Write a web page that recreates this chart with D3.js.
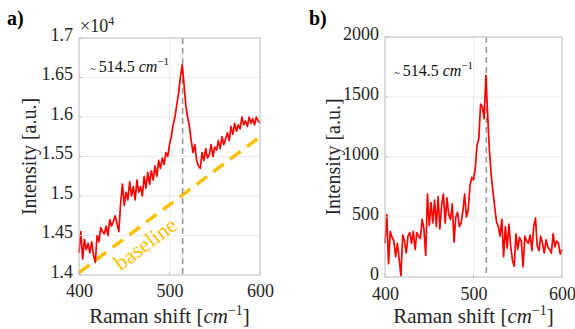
<!DOCTYPE html>
<head>
    <meta charset="utf-8">
    <title>Raman spectra</title>
    <style>
        body { margin: 0; background: #fff; }
        text { font-family: "Liberation Serif", "DejaVu Serif", serif; fill: #262626; }
    </style>
</head>
<body>
<div id="chart"></div>
<script src="https://d3js.org/d3.v7.min.js"></script>
<script>

// Raman shift, sampled every 2 cm^-1 from 400 to 600
var shift = d3.range(400, 601, 2);

// Panel a: raw spectrum (x 10^4 a.u.)
var rawIntensity = [
    1.428, 1.455, 1.420, 1.445, 1.432, 1.440, 1.428, 1.442, 1.425, 1.416,
    1.450, 1.442, 1.460, 1.455, 1.452, 1.462, 1.450, 1.470, 1.462, 1.468,
    1.475, 1.465, 1.455, 1.490, 1.515, 1.488, 1.505, 1.495, 1.518, 1.500,
    1.512, 1.495, 1.520, 1.505, 1.512, 1.500, 1.525, 1.510, 1.530, 1.515,
    1.532, 1.520, 1.538, 1.525, 1.545, 1.535, 1.548, 1.540, 1.555, 1.550,
    1.565, 1.575, 1.590, 1.600, 1.615, 1.630, 1.650, 1.666, 1.642, 1.615,
    1.600, 1.588, 1.570, 1.555, 1.565, 1.545, 1.538, 1.535, 1.555, 1.545,
    1.560, 1.548, 1.552, 1.565, 1.550, 1.562, 1.558, 1.570, 1.560, 1.575,
    1.565, 1.572, 1.580, 1.570, 1.588, 1.578, 1.592, 1.582, 1.590, 1.585,
    1.600, 1.590, 1.595, 1.588, 1.600, 1.592, 1.598, 1.590, 1.600, 1.595,
    1.592
];

// Panel b: baseline-corrected spectrum (a.u.)
var correctedIntensity = [
    280, 520, 110, 380, 330, 300, 170, 280, 150, 10,
    350, 300, 200, 340, 370, 280, 380, 230, 370, 340,
    320, 480, 400, 180, 690, 430, 620, 450, 640, 420,
    670, 400, 600, 690, 450, 660, 520, 480, 610, 290,
    500, 540, 420, 450, 550, 690, 500, 560, 760, 830,
    810, 900, 1100, 1150, 1440, 1420, 1320, 1680, 1350, 1050,
    850, 710, 580, 460, 420, 340, 480, 170, 420, 240,
    440, 260, 140, 90, 360, 230, 330, 300, 85, 340,
    300, 280, 350, 220, 420, 490, 260, 220, 340, 280,
    200, 310, 250, 230, 200, 360, 250, 300, 280, 190,
    230
];

// Linear baseline end points (x 10^4)
var baselineX = [400, 600];
var baselineY = [1.403, 1.575];

var peakPos = 514.5;
var xTicks = [400, 500, 600];
var yTicksA = [1.4, 1.45, 1.5, 1.55, 1.6, 1.65, 1.7];
var yTickLabelsA = ["1.4", "1.45", "1.5", "1.55", "1.6", "1.65", "1.7"];
var yTicksB = [0, 500, 1000, 1500, 2000];

var svg = d3.select("#chart").append("svg")
    .attr("width", 575)
    .attr("height", 329);

var panels = [
    { left: 79, right: 260, top: 38, bottom: 275, yDomain: [1.4, 1.7], yTicks: yTicksA,
      yFmt: function(d, i) { return yTickLabelsA[i]; }, values: rawIntensity, label: "a)",
      labelX: 7, labelY: 25, annX: 90, annY: 72, ylabX: 29 },
    { left: 385, right: 562, top: 37, bottom: 277, yDomain: [0, 2000], yTicks: yTicksB,
      yFmt: function(d) { return d; }, values: correctedIntensity, label: "b)",
      labelX: 309, labelY: 25, annX: 394, annY: 76, ylabX: 333 }
];

panels.forEach(function(p, k) {
    var x = d3.scaleLinear().domain([400, 600]).range([p.left, p.right]);
    var y = d3.scaleLinear().domain(p.yDomain).range([p.bottom, p.top]);
    var g = svg.append("g");

    // grid
    g.selectAll(".gx").data(xTicks).enter().append("line")
        .attr("x1", x).attr("x2", x).attr("y1", p.top).attr("y2", p.bottom)
        .attr("stroke", "#ebebeb").attr("stroke-width", 1);
    g.selectAll(".gy").data(p.yTicks).enter().append("line")
        .attr("x1", p.left).attr("x2", p.right).attr("y1", y).attr("y2", y)
        .attr("stroke", "#ebebeb").attr("stroke-width", 1);

    // baseline (panel a only)
    if (k === 0) {
        g.append("line")
            .attr("x1", x(baselineX[0])).attr("y1", y(baselineY[0]))
            .attr("x2", x(baselineX[1])).attr("y2", y(baselineY[1]))
            .attr("stroke", "#ffc000").attr("stroke-width", 3.5)
            .attr("stroke-dasharray", "13,8");
        var ang = Math.atan2(y(baselineY[1]) - y(baselineY[0]), x(600) - x(400)) * 180 / Math.PI;
        g.append("text")
            .attr("transform", "translate(" + x(473) + "," + (y(1.45) + 8) + ") rotate(" + ang + ")")
            .attr("text-anchor", "middle")
            .attr("dy", "0.35em")
            .style("fill", "#ffc000")
            .style("font-size", "22px")
            .text("baseline");
    }

    // peak marker
    g.append("line")
        .attr("x1", x(peakPos)).attr("x2", x(peakPos))
        .attr("y1", p.top).attr("y2", p.bottom)
        .attr("stroke", "#9a9a9a").attr("stroke-width", 1.6)
        .attr("stroke-dasharray", "6,4");

    // spectrum
    var line = d3.line()
        .x(function(d, i) { return x(shift[i]); })
        .y(function(d) { return y(d); });
    g.append("path")
        .datum(p.values)
        .attr("d", line)
        .attr("fill", "none")
        .attr("stroke", "#ff0000")
        .attr("stroke-width", 1.7)
        .attr("stroke-linejoin", "round");

    // box
    g.append("rect")
        .attr("x", p.left).attr("y", p.top)
        .attr("width", p.right - p.left).attr("height", p.bottom - p.top)
        .attr("fill", "none").attr("stroke", "#c4c4c4").attr("stroke-width", 1);

    // ticks
    var xa = d3.axisBottom(x).tickValues(xTicks).tickSize(0).tickPadding(10 - (k === 0 ? 1 : 0));
    var ya = d3.axisLeft(y).tickValues(p.yTicks).tickFormat(p.yFmt).tickSize(0).tickPadding(6);
    var gx = g.append("g").attr("transform", "translate(0," + p.bottom + ")").call(xa);
    var gy = g.append("g").attr("transform", "translate(" + p.left + ",0)").call(ya);
    [gx, gy].forEach(function(a) {
        a.select(".domain").remove();
        a.selectAll("text").style("font-size", "18px").style("font-family", "Liberation Serif").attr("fill", "#262626");
    });
    gy.selectAll("text").attr("dy", "0.12em");
    g.selectAll(".tx").data(xTicks).enter().append("line")
        .attr("x1", x).attr("x2", x).attr("y1", p.bottom).attr("y2", p.bottom - 3)
        .attr("stroke", "#c4c4c4");
    g.selectAll(".ty").data(p.yTicks).enter().append("line")
        .attr("x1", p.left).attr("x2", p.left + 3).attr("y1", y).attr("y2", y)
        .attr("stroke", "#c4c4c4");

    // axis labels
    var xl = g.append("text")
        .attr("x", (p.left + p.right) / 2).attr("y", 323)
        .attr("text-anchor", "middle").style("font-size", "21px");
    xl.append("tspan").text("Raman shift [");
    xl.append("tspan").style("font-style", "italic").text("cm");
    xl.append("tspan").attr("dy", -8).style("font-size", "14px").text("\u22121");
    xl.append("tspan").attr("dy", 8).text("]");

    g.append("text")
        .attr("transform", "translate(" + p.ylabX + "," + ((p.top + p.bottom) / 2) + ") rotate(-90)")
        .attr("text-anchor", "middle").attr("dy", "0.35em").style("font-size", "20px")
        .text("Intensity [a.u.]");

    // panel label
    g.append("text").attr("x", p.labelX).attr("y", p.labelY)
        .style("font-size", "20px").style("font-weight", "bold").style("fill", "#000")
        .text(p.label);

    // annotation
    var an = g.append("text").attr("x", p.annX).attr("y", p.annY).style("font-size", "16px").style("fill", "#111");
    an.append("tspan").style("font-size", "11px").text("~ ");
    an.append("tspan").text("514.5 ");
    an.append("tspan").style("font-style", "italic").text("cm");
    an.append("tspan").attr("dy", -7).style("font-size", "11px").text("\u22121");
});

// exponent of panel a
var ex = svg.append("text").attr("x", 80).attr("y", 32).style("font-size", "18px");
ex.append("tspan").text("\u00d710");
ex.append("tspan").attr("dy", -7).style("font-size", "12px").text("4");

</script>
</body>
</html>
